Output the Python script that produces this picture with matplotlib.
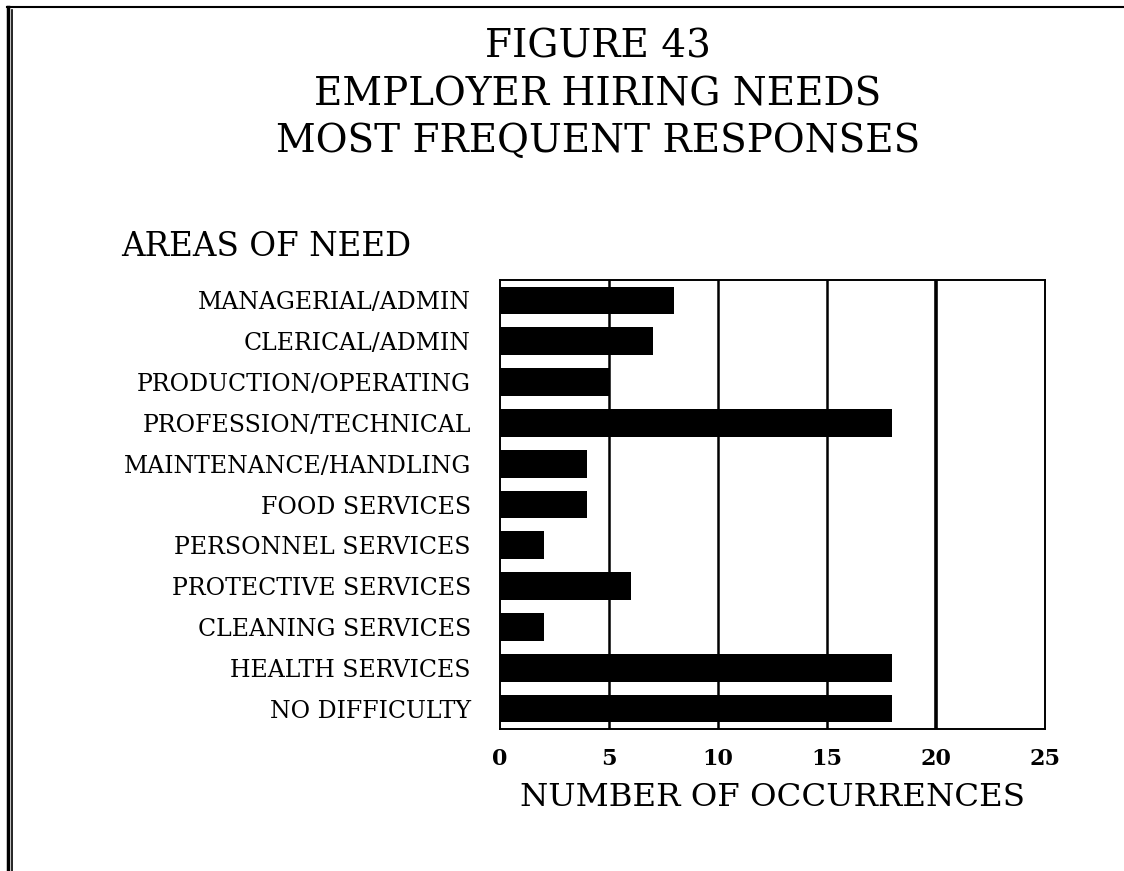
#!/usr/bin/env python3
"""Employer hiring needs: horizontal bar chart of the most frequent responses."""
import matplotlib
matplotlib.use("Agg")
import matplotlib.pyplot as plt
from matplotlib.lines import Line2D

AREAS = ["MANAGERIAL/ADMIN", "CLERICAL/ADMIN", "PRODUCTION/OPERATING",
         "PROFESSION/TECHNICAL", "MAINTENANCE/HANDLING", "FOOD SERVICES",
         "PERSONNEL SERVICES", "PROTECTIVE SERVICES", "CLEANING SERVICES",
         "HEALTH SERVICES", "NO DIFFICULTY"]
OCCURRENCES = [8, 7, 5, 18, 4, 4, 2, 6, 2, 18, 18]
X_TICKS = [0, 5, 10, 15, 20, 25]

SERIF = "DejaVu Serif"


def main():
    fig = plt.figure(figsize=(11.24, 8.71), dpi=100)
    ax = fig.add_axes([0.4448, 0.163, 0.4849, 0.5155])

    ys = list(range(len(AREAS)))
    # light grid behind the bars, heavier rule at 20
    for v in X_TICKS[1:4]:
        ax.axvline(v, color="black", lw=1.8, zorder=1)
    ax.axvline(20, color="black", lw=2.6, zorder=1)
    ax.barh(ys, OCCURRENCES, height=0.68, color="black", zorder=2)

    ax.set_xlim(0, 25)
    ax.set_ylim(len(AREAS) - 0.5, -0.5)
    ax.set_xticks(X_TICKS)
    ax.set_xticklabels([str(t) for t in X_TICKS], fontfamily=SERIF,
                       fontweight="bold", fontsize=16)
    ax.set_yticks(ys)
    ax.set_yticklabels(AREAS, fontfamily=SERIF, fontsize=17)
    ax.tick_params(axis="both", length=0)
    ax.tick_params(axis="y", pad=21)
    ax.tick_params(axis="x", pad=14)
    for s in ax.spines.values():
        s.set_linewidth(1.4)
    ax.set_xlabel("NUMBER OF OCCURRENCES", fontfamily=SERIF, fontsize=23.3,
                  labelpad=8)

    for y, line in zip([0.946, 0.891, 0.837],
                       ["FIGURE 43", "EMPLOYER HIRING NEEDS",
                        "MOST FREQUENT RESPONSES"]):
        fig.text(0.532, y, line, ha="center", va="center",
                 fontfamily=SERIF, fontsize=28)
    fig.text(0.108, 0.716, "AREAS OF NEED", ha="left", va="center",
             fontfamily=SERIF, fontsize=23.5)

    # page border, doubled on the left
    fig.add_artist(Line2D([0.007, 0.007], [0.0, 0.992], color="black", lw=2.5))
    fig.add_artist(Line2D([0.011, 0.011], [0.0, 0.988], color="black", lw=1.2))
    fig.add_artist(Line2D([0.006, 1.0], [0.992, 0.992], color="black", lw=1.5))

    fig.savefig("out.png", dpi=100)
    plt.close(fig)


if __name__ == "__main__":
    main()
